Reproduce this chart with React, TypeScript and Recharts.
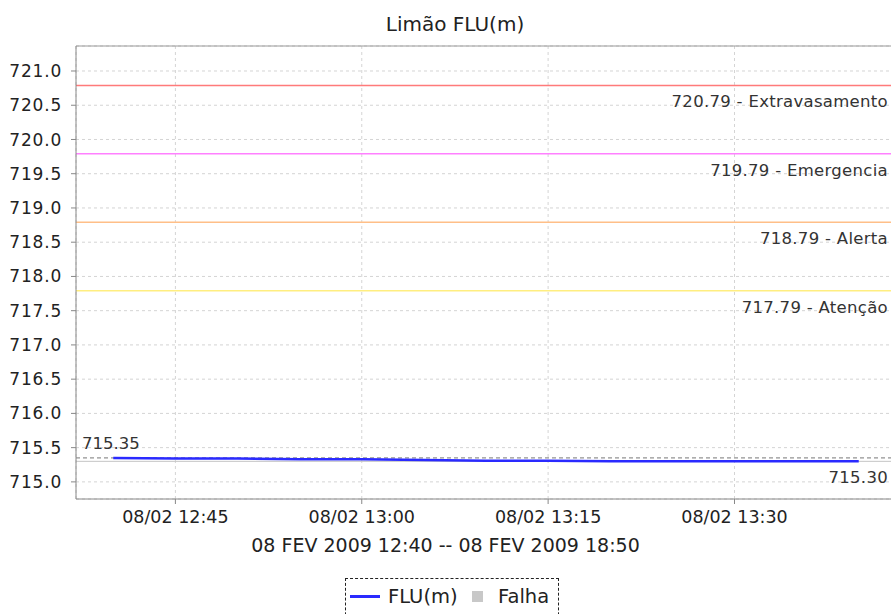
import React from "react";
import {
  LineChart,
  Line,
  XAxis,
  YAxis,
  CartesianGrid,
  ReferenceLine,
} from "recharts";

// minutes after 12:00 on 08/02/2009
const minutes = [40, 45, 50, 55, 60, 65, 70, 75, 80, 85, 90, 95, 100];
const fluValues = [
  715.35, 715.34, 715.34, 715.33, 715.33, 715.32, 715.31, 715.31, 715.3,
  715.3, 715.3, 715.3, 715.3,
];

const thresholdValues = [720.79, 719.79, 718.79, 717.79];
const thresholdNames = ["Extravasamento", "Emergencia", "Alerta", "Atenção"];
const thresholdColors = ["#ff7a7a", "#ff80ff", "#ffbf88", "#ffee80"];

const maxValue = 715.35;
const minValue = 715.3;

const yTicks = [715, 715.5, 716, 716.5, 717, 717.5, 718, 718.5, 719, 719.5, 720, 720.5, 721];
const xTicks = [45, 60, 75, 90];

const data = minutes.map((m, i) => ({ t: m, flu: fluValues[i] }));

const FONT = "'DejaVu Sans', sans-serif";
const Y_MIN = 714.75;
const Y_MAX = 721.365;

function fmtTime(m: number) {
  const h = 12 + Math.floor(m / 60);
  const mm = m % 60;
  return `08/02 ${h}:${mm < 10 ? "0" + mm : mm}`;
}

function rightLabel(text: string, dy: number) {
  return (props: any) => {
    const vb = props.viewBox || {};
    return (
      <text
        x={vb.x + vb.width - 8}
        y={vb.y + dy}
        textAnchor="end"
        fontFamily={FONT}
        fontSize={16.5}
        letterSpacing={0.3}
        fill="#333"
      >
        {text}
      </text>
    );
  };
}

function leftLabel(text: string, dy: number) {
  return (props: any) => {
    const vb = props.viewBox || {};
    return (
      <text
        x={vb.x + 6}
        y={vb.y + dy}
        textAnchor="start"
        fontFamily={FONT}
        fontSize={16.5}
        fill="#333"
      >
        {text}
      </text>
    );
  };
}

export default function App() {
  return (
    <div
      style={{
        position: "fixed",
        top: 0,
        left: 0,
        width: 891,
        height: 614,
        overflow: "hidden",
        background: "#fff",
        fontFamily: FONT,
      }}
    >
      <div
        style={{
          position: "absolute",
          top: 12,
          left: 0,
          width: 910,
          textAlign: "center",
          fontSize: 20,
          color: "#222",
        }}
      >
        Limão FLU(m)
      </div>
      <LineChart
        width={891}
        height={614}
        data={data}
        margin={{ top: 46, right: -5, bottom: 75, left: 0 }}
      >
        <CartesianGrid stroke="#d4d4d4" strokeDasharray="3 3" />
        <XAxis
          dataKey="t"
          type="number"
          domain={[37, 103]}
          ticks={xTicks}
          tickFormatter={fmtTime}
          height={40}
          stroke="#888"
          tickSize={5}
          tickMargin={7}
          tick={{ fill: "#222", fontSize: 17.5, fontFamily: FONT }}
          allowDataOverflow
        />
        <YAxis
          type="number"
          domain={[Y_MIN, Y_MAX]}
          ticks={yTicks}
          tickFormatter={(v: number) => v.toFixed(1)}
          width={76}
          stroke="#888"
          tickSize={5}
          tickMargin={9}
          tick={{ fill: "#222", fontSize: 17, fontFamily: FONT, letterSpacing: 0.8 }}
          allowDataOverflow
        />
        <ReferenceLine y={Y_MAX} stroke="#999" />
        {thresholdValues.map((v, i) => (
          <ReferenceLine
            key={v}
            y={v}
            stroke={thresholdColors[i]}
            strokeWidth={1.5}
            label={rightLabel(`${v.toFixed(2)} - ${thresholdNames[i]}`, 22)}
          />
        ))}
        <ReferenceLine
          y={maxValue}
          stroke="#777"
          strokeDasharray="4 3"
          label={leftLabel(maxValue.toFixed(2), -9)}
        />
        <ReferenceLine
          y={minValue}
          stroke="#c4c4c4"
          label={rightLabel(minValue.toFixed(2), 22)}
        />
        <Line
          type="linear"
          dataKey="flu"
          stroke="#2a2aff"
          strokeWidth={2.5}
          dot={false}
          isAnimationActive={false}
        />
      </LineChart>
      <div
        style={{
          position: "absolute",
          top: 534,
          left: 0,
          width: 891,
          textAlign: "center",
          fontSize: 19,
          color: "#222",
          whiteSpace: "nowrap",
        }}
      >
        08 FEV 2009 12:40 -- 08 FEV 2009 18:50
      </div>
      <div
        style={{
          position: "absolute",
          top: 578,
          left: 345,
          width: 212,
          height: 50,
          border: "1px dashed #222",
          fontSize: 19.5,
          color: "#222",
        }}
      >
        <div
          style={{
            position: "absolute",
            left: 4,
            top: 16,
            width: 30,
            height: 2.5,
            background: "#2a2aff",
          }}
        />
        <span style={{ position: "absolute", left: 42, top: 6 }}>FLU(m)</span>
        <div
          style={{
            position: "absolute",
            left: 126,
            top: 12,
            width: 11,
            height: 11,
            background: "#c8c8c8",
          }}
        />
        <span style={{ position: "absolute", left: 152, top: 6 }}>Falha</span>
      </div>
    </div>
  );
}
